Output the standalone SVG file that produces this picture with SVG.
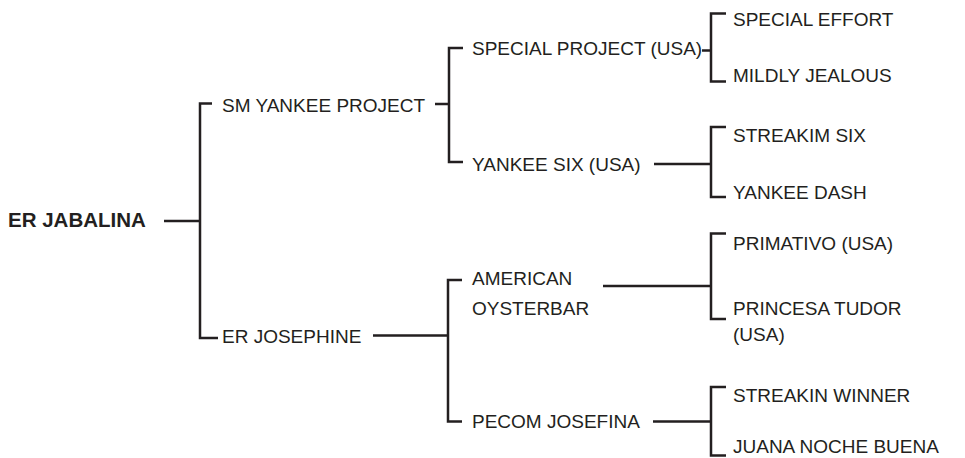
<svg xmlns="http://www.w3.org/2000/svg" width="965" height="458" viewBox="0 0 965 458">
<style>
  text { font-family: "Liberation Sans", Arial, sans-serif; font-size: 19px; fill: #231f20; }
  .root { font-weight: bold; font-size: 20.5px; }
  .c { fill: none; stroke: #231f20; stroke-width: 2.5; stroke-linecap: butt; stroke-linejoin: miter; }
</style>
<rect width="965" height="458" fill="#ffffff"/>
<g id="connectors">
  <path class="c" d="M164 221H200M212 103.5H200V338H218"/>
  <path class="c" d="M435 104H449M463 48H449V162H463"/>
  <path class="c" d="M373 335.5H448M462 280H448V421.5H462"/>
  <path class="c" d="M702 50.5H711M726 13.5H711V81.5H726"/>
  <path class="c" d="M654 164H711M726 127H711V197H726"/>
  <path class="c" d="M603 286H711M726 233.5H711V319H726"/>
  <path class="c" d="M653 421.5H711M726 387H711V455.5H726"/>
</g>
<g id="er-jabalina"><text class="root" x="8" y="227">ER JABALINA</text></g>
<g id="sm-yankee-project"><text x="222" y="112">SM YANKEE PROJECT</text></g>
<g id="er-josephine"><text x="222" y="343">ER JOSEPHINE</text></g>
<g id="special-project"><text x="472" y="55">SPECIAL PROJECT (USA)</text></g>
<g id="yankee-six"><text x="472" y="171">YANKEE SIX (USA)</text></g>
<g id="american-oysterbar"><text x="472" y="285">AMERICAN</text><text x="472" y="315">OYSTERBAR</text></g>
<g id="pecom-josefina"><text x="472" y="428">PECOM JOSEFINA</text></g>
<g id="special-effort"><text x="733" y="26">SPECIAL EFFORT</text></g>
<g id="mildly-jealous"><text x="733" y="82">MILDLY JEALOUS</text></g>
<g id="streakim-six"><text x="733" y="141.5">STREAKIM SIX</text></g>
<g id="yankee-dash"><text x="733" y="199">YANKEE DASH</text></g>
<g id="primativo"><text x="733" y="250">PRIMATIVO (USA)</text></g>
<g id="princesa-tudor"><text x="733" y="315">PRINCESA TUDOR</text><text x="733" y="341">(USA)</text></g>
<g id="streakin-winner"><text x="733" y="401.5">STREAKIN WINNER</text></g>
<g id="juana-noche-buena"><text x="733" y="453">JUANA NOCHE BUENA</text></g>
</svg>
